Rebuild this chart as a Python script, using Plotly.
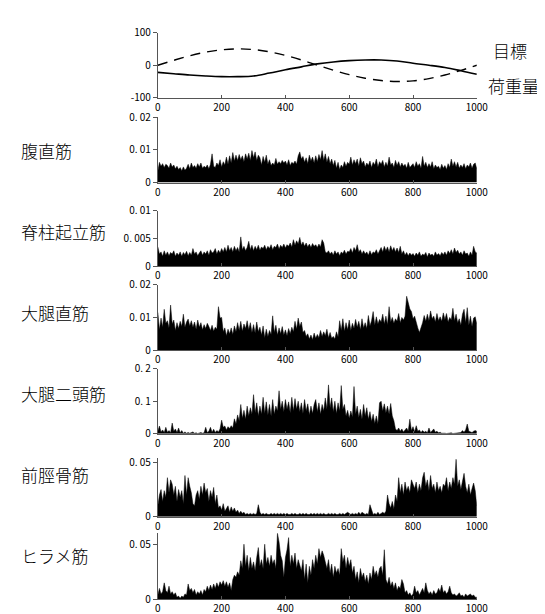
import plotly.graph_objects as go

# ---------------- data ----------------
# top panel: target (dashed) and load (solid), sampled every 50
sine_time = list(range(0, 1001, 50))
target = [0, 15, 29, 40, 47, 50, 48, 41, 30, 16, 0, -15, -29, -40, -47, -50, -48, -41, -30, -16, 0]
load = [-22, -26, -30, -33, -35, -35, -33, -24, -14, -5, 4, 10, 14, 16, 16, 13, 6, 0, -7, -17, -28]

# EMG panels, sampled every 5, values in units of 1e-3
emg_time = list(range(0, 1001, 5))

rectus_abdominis = [
    3.5, 6.2, 5.0, 5.8, 4.6, 5.6, 5.2, 4.4, 6.0, 4.8,
    5.4, 4.2, 5.0, 4.0, 4.6, 3.6, 4.8, 3.8, 4.4, 5.6,
    4.2, 6.0, 4.6, 5.2, 4.4, 5.8, 4.8, 6.0, 4.4, 5.0,
    4.6, 5.4, 4.2, 5.6, 8.8, 5.0, 4.6, 6.0, 5.2, 7.0,
    4.8, 6.4, 5.4, 7.8, 5.6, 8.2, 6.0, 9.2, 6.6, 8.4,
    6.8, 8.6, 7.0, 8.2, 6.4, 8.8, 7.2, 9.0, 6.8, 9.8,
    7.6, 9.4, 6.8, 8.4, 7.6, 5.4, 8.0, 6.2, 8.4, 5.6,
    7.0, 5.2, 6.0, 5.4, 7.4, 5.6, 6.4, 5.8, 6.8, 6.0,
    6.6, 5.4, 7.0, 5.2, 6.2, 5.8, 6.6, 5.6, 8.2, 9.4,
    7.2, 8.0, 6.2, 7.6, 5.8, 8.4, 6.6, 7.8, 6.0, 8.2,
    6.4, 8.6, 7.0, 9.8, 6.8, 8.8, 6.2, 8.0, 5.8, 7.2,
    5.2, 6.8, 4.4, 6.2, 4.0, 5.4, 4.6, 6.4, 5.0, 6.2,
    5.6, 7.8, 5.4, 7.0, 5.8, 7.2, 5.0, 7.6, 5.8, 6.6,
    4.8, 6.0, 5.2, 6.6, 4.6, 6.2, 5.4, 7.2, 4.8, 6.4,
    5.6, 6.8, 4.8, 6.2, 5.0, 7.8, 5.4, 6.0, 4.6, 6.8,
    5.2, 6.4, 4.8, 6.0, 5.0, 5.6, 4.4, 6.2, 4.6, 5.2,
    5.8, 4.6, 6.4, 5.0, 5.8, 4.4, 8.0, 5.0, 6.2, 4.6,
    5.8, 4.8, 6.4, 4.2, 5.4, 4.6, 5.0, 4.0, 5.6, 4.4,
    5.2, 4.0, 5.8, 4.6, 7.2, 5.0, 6.4, 4.8, 6.2, 4.4,
    5.4, 4.6, 5.8, 4.2, 5.4, 4.8, 6.0, 4.4, 5.6, 6.0,
    4.2,
]

erector_spinae = [
    3.5, 2.2, 2.6, 1.8, 2.8, 2.0, 2.6, 1.9, 2.5, 2.2,
    2.8, 1.8, 2.4, 2.0, 2.6, 1.8, 2.5, 2.1, 2.7, 1.9,
    2.5, 2.0, 3.2, 2.2, 2.6, 1.9, 2.4, 2.8, 2.0, 2.6,
    2.2, 2.8, 2.0, 3.0, 2.4, 2.6, 3.2, 2.2, 2.9, 2.4,
    3.2, 2.6, 3.4, 2.6, 3.8, 2.8, 3.4, 2.6, 3.6, 2.8,
    3.4, 2.6, 5.3, 3.0, 3.6, 2.8, 3.4, 4.5, 3.0, 3.8,
    2.8, 3.6, 3.0, 3.8, 2.9, 3.5, 3.2, 3.8, 3.0, 3.6,
    3.2, 3.9, 3.0, 3.6, 3.4, 4.0, 3.1, 3.8, 3.4, 4.0,
    3.3, 3.9, 3.6, 4.2, 3.5, 4.8, 3.8, 4.6, 4.0, 5.2,
    3.8, 4.4, 3.6, 4.2, 3.5, 4.0, 3.4, 4.1, 3.6, 3.9,
    3.4, 4.0, 3.5, 4.8, 4.2, 2.6, 2.4, 2.8, 2.2, 2.6,
    2.0, 2.8, 2.2, 2.6, 1.9, 2.6, 2.3, 2.9, 2.2, 2.7,
    2.6, 3.2, 2.4, 3.4, 2.8, 3.9, 2.6, 3.0, 2.2, 2.8,
    2.2, 2.6, 2.0, 2.8, 2.1, 2.6, 2.4, 3.0, 2.2, 2.8,
    3.4, 2.6, 3.6, 2.8, 3.5, 2.6, 3.7, 2.8, 3.4, 2.6,
    3.3, 2.5, 3.6, 2.2, 2.8, 2.0, 2.5, 1.9, 2.4, 2.0,
    2.3, 1.8, 2.4, 2.0, 2.6, 1.8, 2.2, 2.0, 2.5, 1.7,
    2.4, 2.0, 2.2, 1.8, 2.6, 2.0, 2.3, 1.9, 2.5, 2.1,
    2.6, 2.0, 2.8, 2.3, 3.0, 2.2, 3.3, 2.5, 2.9, 2.2,
    2.6, 2.0, 2.8, 2.2, 2.4, 1.8, 2.6, 2.0, 3.6, 2.6,
    2.4,
]

rectus_femoris = [
    11.5, 6.2, 9.8, 7.0, 12.5, 8.2, 9.0, 6.8, 13.8, 8.0,
    9.2, 6.0, 8.4, 6.6, 8.8, 7.2, 11.0, 7.0, 8.6, 9.5,
    7.4, 9.0, 7.0, 8.6, 6.4, 9.2, 7.0, 8.4, 6.2, 7.8,
    6.6, 8.2, 7.2, 6.0, 7.6, 5.8, 7.0, 6.4, 13.3, 9.8,
    10.0, 5.6, 6.8, 4.4, 6.4, 5.0, 6.8, 4.8, 7.4, 5.6,
    8.4, 6.0, 8.8, 5.8, 8.0, 6.6, 9.0, 6.2, 8.4, 5.4,
    7.8, 5.2, 8.6, 5.6, 7.0, 4.6, 7.4, 3.8, 6.4, 4.2,
    6.0, 4.8, 10.5, 5.4, 7.6, 4.6, 6.8, 5.0, 7.2, 4.6,
    6.2, 4.4, 6.6, 5.0, 7.0, 5.6, 8.8, 6.4, 9.8, 7.2,
    8.6, 5.4, 6.0, 4.2, 5.0, 3.4, 4.6, 3.2, 5.2, 3.6,
    4.8, 3.8, 6.0, 4.2, 5.6, 4.4, 6.4, 3.8, 5.4, 3.6,
    4.2, 3.4, 5.6, 4.0, 9.0, 6.0, 9.6, 5.8, 8.4, 6.2,
    9.2, 6.0, 8.2, 6.6, 9.4, 7.0, 8.8, 6.2, 9.6, 6.8,
    8.4, 6.6, 10.6, 7.4, 9.0, 11.8, 7.6, 10.2, 8.0, 9.4,
    8.6, 11.0, 8.0, 10.4, 7.8, 13.3, 8.6, 10.0, 8.2, 9.6,
    8.8, 11.2, 8.4, 10.0, 9.2, 10.4, 16.5, 14.2, 12.6, 11.8,
    9.6, 10.4, 8.2, 6.8, 5.4, 6.6, 8.4, 10.6, 8.8, 11.0,
    9.0, 12.0, 9.6, 10.4, 8.6, 11.2, 9.0, 10.2, 8.8, 11.4,
    9.4, 11.2, 8.6, 10.0, 9.2, 12.8, 9.0, 11.0, 8.4, 9.6,
    7.6, 11.0, 12.5, 8.4, 13.0, 7.6, 10.4, 7.2, 9.8, 10.2,
    8.0,
]

biceps_femoris = [
    8, 24, 6, 12, 4, 20, 5, 10, 3, 33,
    8, 15, 4, 18, 3, 10, 2, 6, 2, 4,
    2, 3, 6, 2, 3, 1, 2, 4, 2, 3,
    20, 4, 8, 20, 5, 14, 4, 10, 6, 15,
    42, 20, 24, 12, 22, 16, 25, 18, 46, 30,
    58, 40, 90, 48, 72, 45, 85, 55, 80, 60,
    120, 65, 95, 55, 85, 60, 112, 62, 98, 58,
    90, 55, 105, 60, 85, 70, 132, 75, 100, 68,
    105, 75, 98, 65, 112, 70, 108, 75, 100, 68,
    95, 62, 105, 70, 92, 58, 85, 62, 90, 105,
    68, 95, 60, 90, 70, 110, 75, 150, 80, 110,
    68, 100, 62, 95, 70, 148, 75, 90, 55, 72,
    48, 70, 52, 145, 60, 85, 50, 75, 45, 90,
    55, 80, 45, 68, 38, 60, 32, 55, 30, 95,
    100, 70, 92, 65, 85, 60, 93, 55, 40, 15,
    10, 18, 8, 15, 6, 12, 18, 8, 45, 10,
    22, 6, 25, 8, 12, 4, 10, 5, 8, 3,
    18, 4, 10, 15, 5, 8, 3, 5, 2, 3,
    2, 1, 2, 1, 3, 1, 2, 1, 2, 3,
    4, 10, 5, 12, 30, 8, 6, 4, 8, 10,
    8,
]

tibialis_anterior = [
    10, 20, 25, 14, 24, 18, 36, 22, 34, 30,
    20, 28, 14, 25, 18, 24, 12, 38, 20, 36,
    28, 22, 12, 10, 20, 24, 16, 28, 20, 31,
    22, 26, 14, 24, 18, 27, 12, 20, 8, 10,
    6, 12, 5, 8, 10, 4, 9, 5, 8, 4,
    6, 3, 5, 3, 4, 2, 3, 2, 3, 2,
    3, 2, 3, 11, 4, 2, 3, 2, 3, 2,
    2, 3, 2, 3, 2, 3, 2, 3, 2, 3,
    2, 3, 2, 2, 3, 2, 3, 2, 2, 3,
    2, 3, 2, 3, 2, 2, 3, 2, 3, 2,
    3, 2, 3, 2, 3, 2, 2, 3, 2, 3,
    2, 3, 2, 2, 3, 2, 3, 2, 3, 4,
    3, 2, 3, 2, 3, 2, 4, 2, 4, 3,
    2, 3, 2, 11, 6, 2, 3, 2, 4, 2,
    3, 4, 3, 5, 20, 12, 8, 14, 7, 20,
    14, 36, 22, 30, 20, 32, 24, 28, 22, 34,
    30, 26, 32, 22, 30, 24, 36, 41, 28, 34,
    24, 38, 26, 30, 22, 32, 24, 28, 22, 30,
    28, 36, 24, 32, 26, 36, 30, 53, 28, 34,
    25, 32, 40, 28, 22, 30, 20, 26, 31, 24,
    10,
]

soleus = [
    4, 10, 5, 7, 15, 8, 6, 12, 5, 7,
    4, 6, 2, 3, 1, 3, 2, 5, 4, 14,
    8, 10, 6, 9, 4, 7, 5, 8, 4, 9,
    7, 12, 8, 13, 9, 14, 10, 15, 11, 16,
    13, 17, 12, 16, 11, 15, 8, 18, 22, 20,
    25, 22, 35, 28, 50, 30, 40, 26, 38, 28,
    34, 26, 38, 47, 30, 36, 28, 50, 32, 38,
    30, 40, 32, 36, 28, 60, 52, 40, 35, 20,
    38, 45, 56, 30, 40, 32, 42, 28, 36, 30,
    26, 36, 18, 32, 15, 30, 22, 36, 28, 40,
    32, 46, 38, 44, 40, 34, 28, 36, 24, 32,
    20, 30, 24, 28, 22, 46, 34, 40, 28, 38,
    30, 36, 24, 30, 18, 25, 15, 28, 20, 24,
    16, 22, 14, 24, 18, 30, 22, 26, 20, 28,
    30, 22, 45, 18, 14, 20, 12, 16, 10, 15,
    8, 12, 10, 18, 14, 6, 8, 4, 6, 3,
    5, 12, 6, 8, 4, 7, 10, 6, 15, 8,
    5, 7, 4, 8, 5, 6, 10, 7, 13, 6,
    8, 5, 7, 12, 6, 4, 5, 3, 4, 6,
    3, 4, 2, 5, 3, 4, 5, 3, 4, 2,
    2,
]

muscle_names = ["腹直筋", "脊柱起立筋", "大腿直筋", "大腿二頭筋", "前脛骨筋", "ヒラメ筋"]
series_names = ["目標", "荷重量"]
emg_series = [rectus_abdominis, erector_spinae, rectus_femoris, biceps_femoris, tibialis_anterior, soleus]

x_tickvals = [0, 200, 400, 600, 800, 1000]
x_ticktext = ["0", "200", "400", "600", "800", "1000"]
top_tickvals = [-100, 0, 100]
top_ticktext = ["-100", "0", "100"]
emg_tickvals = [[0, 10, 20], [0, 5, 10], [0, 10, 20], [0, 100, 200], [0, 50], [0, 50]]
emg_ticktext = [["0", "0. 01", "0. 02"], ["0", "0. 005", "0. 01"], ["0", "0. 01", "0. 02"],
                ["0", "0. 1", "0. 2"], ["0", "0. 05"], ["0", "0. 05"]]
emg_ranges = [[0, 20], [0, 10], [0, 20], [0, 200], [0, 54], [0, 60]]

# ---------------- layout geometry (pixels) ----------------
W, H = 545, 614
X0, X1 = 151, 479
panels_px = [(16, 83), (103, 170), (199, 256), (275, 342), (361, 428), (453, 513), (530, 598)]
label_y_px = [137, 220, 303, 387, 470, 553]

def py(p):
    return 1 - p / H

FONT = "Noto Sans CJK JP, Noto Sans, sans-serif"
AXC = "#555555"

fig = go.Figure()

# top panel
fig.add_trace(go.Scatter(x=sine_time, y=target, mode="lines", line=dict(color="black", width=1.4, dash="10px,7px", shape="spline"),
                         xaxis="x", yaxis="y", showlegend=False, name=series_names[0]))
fig.add_trace(go.Scatter(x=sine_time, y=load, mode="lines", line=dict(color="black", width=1.6, shape="spline"),
                         xaxis="x", yaxis="y", showlegend=False, name=series_names[1]))

for i, vals in enumerate(emg_series):
    k = i + 2
    fig.add_trace(go.Scatter(x=emg_time, y=vals, mode="lines", fill="tozeroy", fillcolor="black",
                             line=dict(color="black", width=0.5), xaxis=f"x{k}", yaxis=f"y{k}",
                             showlegend=False, name=muscle_names[i]))

layout = dict(width=W, height=H, margin=dict(l=0, r=0, t=0, b=0), paper_bgcolor="white", plot_bgcolor="white",
              showlegend=False, font=dict(family=FONT, size=10, color="black"))

for j, (t, b) in enumerate(panels_px):
    k = j + 1
    xs = "xaxis" if k == 1 else f"xaxis{k}"
    ys = "yaxis" if k == 1 else f"yaxis{k}"
    yref = "y" if k == 1 else f"y{k}"
    xref = "x" if k == 1 else f"x{k}"
    layout[xs] = dict(domain=[X0 / W, X1 / W], range=[0, 1000], anchor=yref, showline=True, linecolor=AXC, linewidth=1,
                      tickvals=x_tickvals, ticktext=x_ticktext, ticks="inside", ticklen=3, tickcolor=AXC,
                      showgrid=False, zeroline=False, tickfont=dict(family=FONT, size=10, color="black"))
    if k == 1:
        yr, tv, tt = [-100, 100], top_tickvals, top_ticktext
    else:
        yr, tv, tt = emg_ranges[j - 1], emg_tickvals[j - 1], emg_ticktext[j - 1]
    layout[ys] = dict(domain=[py(b), py(t)], range=yr, anchor=xref, showline=True, linecolor=AXC, linewidth=1,
                      tickvals=tv, ticktext=tt, ticks="outside", ticklen=4, tickcolor=AXC,
                      showgrid=False, zeroline=False, tickfont=dict(family=FONT, size=10, color="black"))

LABEL_FONT = dict(family=FONT, size=17, color="black", weight=300)
annotations = []
for name, yp in zip(muscle_names, label_y_px):
    annotations.append(dict(text=name, x=8 / W, y=py(yp), xref="paper", yref="paper", xanchor="left", yanchor="middle",
                            showarrow=False, font=LABEL_FONT))
annotations.append(dict(text=series_names[0], x=494 / W, y=py(34), xref="paper", yref="paper", xanchor="left",
                        yanchor="middle", showarrow=False, font=LABEL_FONT))
annotations.append(dict(text=series_names[1], x=544 / W, y=py(70), xref="paper", yref="paper", xanchor="right",
                        yanchor="middle", showarrow=False, borderpad=0, font=LABEL_FONT))
layout["annotations"] = annotations

fig.update_layout(**layout)
fig.write_html("out.html")
